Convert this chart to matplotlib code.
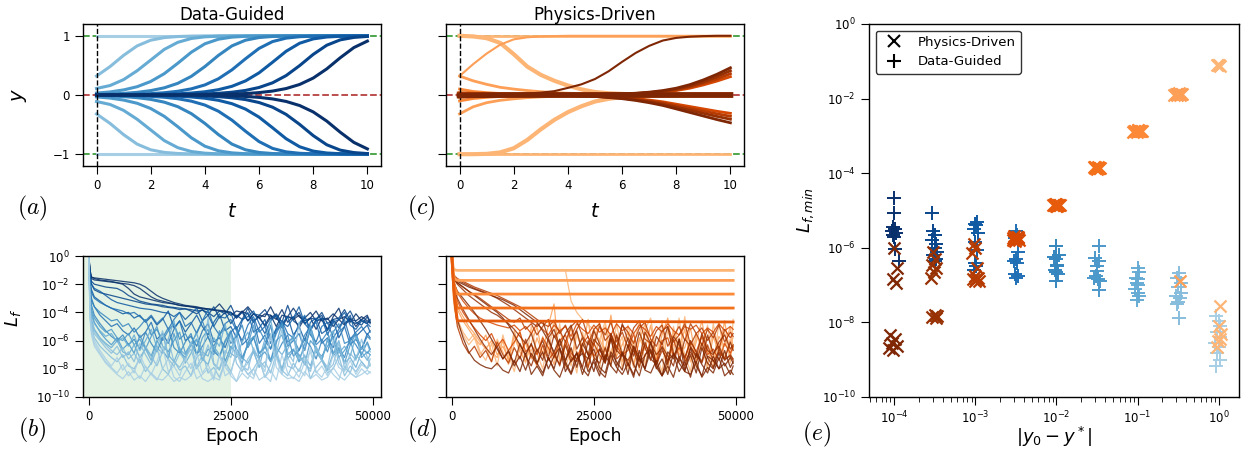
import matplotlib.pyplot as plt
import numpy as np
from matplotlib.lines import Line2D
from matplotlib.ticker import NullLocator

plt.rcParams['font.family'] = 'DejaVu Sans'
plt.rcParams['axes.linewidth'] = 1.0
plt.rcParams['xtick.major.size'] = 6
plt.rcParams['ytick.major.size'] = 6
plt.rcParams['xtick.minor.size'] = 3.5
plt.rcParams['xtick.labelsize'] = 8.5
plt.rcParams['ytick.labelsize'] = 8.5

# colour index 0 -> |y0 - y*| = 1 (light) ... 8 -> 1e-4 (dark)
blues = plt.cm.Blues(np.linspace(0.35, 1.0, 9))
oranges = plt.cm.Oranges(np.linspace(0.35, 1.0, 9))

# ---------------- (a) Data-Guided trajectories (upper half, mirrored below)
T = [0, 0.5, 1, 1.5, 2, 2.5, 3, 3.5, 4, 4.5, 5, 5.5, 6, 6.5, 7, 7.5, 8, 8.5, 9, 9.5, 10]
a_flat = 1.0
a_traj = [
    [0.32, 0.48, 0.67, 0.83, 0.926, 0.97, 0.988, 0.995, 0.998, 1.0, 1.0, 1.0, 1.0, 1.0, 1.0, 1.0, 1.0, 1.0, 1.0, 1.0, 1.0],
    [0.11, 0.16, 0.26, 0.41, 0.59, 0.77, 0.89, 0.955, 0.983, 0.994, 0.998, 1.0, 1.0, 1.0, 1.0, 1.0, 1.0, 1.0, 1.0, 1.0, 1.0],
    [0.032, 0.052, 0.086, 0.14, 0.228, 0.36, 0.536, 0.723, 0.865, 0.943, 0.978, 0.992, 0.997, 0.999, 1.0, 1.0, 1.0, 1.0, 1.0, 1.0, 1.0],
    [0.010, 0.0165, 0.027, 0.045, 0.074, 0.121, 0.197, 0.315, 0.48, 0.669, 0.83, 0.926, 0.971, 0.989, 0.996, 0.9985, 1.0, 1.0, 1.0, 1.0, 1.0],
    [0.003, 0.005, 0.0086, 0.014, 0.023, 0.038, 0.063, 0.104, 0.17, 0.274, 0.425, 0.612, 0.787, 0.903, 0.961, 0.985, 0.994, 0.998, 1.0, 1.0, 1.0],
    [0.001, 0.0017, 0.0027, 0.0045, 0.0074, 0.0122, 0.0201, 0.0331, 0.0546, 0.0897, 0.147, 0.238, 0.374, 0.554, 0.739, 0.875, 0.948, 0.98, 0.992, 0.997, 0.999],
    [0.0003, 0.0005, 0.0009, 0.0014, 0.0023, 0.0039, 0.0064, 0.0105, 0.0173, 0.0285, 0.0469, 0.0772, 0.127, 0.206, 0.328, 0.497, 0.686, 0.841, 0.932, 0.973, 0.99],
    [0.0001, 0.0002, 0.0003, 0.0004, 0.0007, 0.0012, 0.002, 0.0033, 0.0055, 0.009, 0.0148, 0.0245, 0.0404, 0.0664, 0.109, 0.178, 0.286, 0.441, 0.63, 0.801, 0.911],
]

# ---------------- (c) Physics-Driven trajectories: (colour index, line width, values on T)
c_traj = [
    (0, 2.0, [1.0] + [1.0] * 20),
    (0, 2.0, [-1.0] + [-1.0] * 20),
    (0, 3.0, [1.0, 0.99, 0.96, 0.88, 0.69, 0.48, 0.34, 0.24, 0.16, 0.095, 0.05, 0.03, 0.018, 0.01, 0.006, 0.004, 0.002, 0.001, 0.001, 0.0, 0.0]),
    (0, 3.0, [-1.0, -1.0, -0.995, -0.97, -0.9, -0.76, -0.58, -0.42, -0.29, -0.19, -0.11, -0.065, -0.035, -0.02, -0.01, -0.006, -0.004, -0.002, -0.001, 0.0, 0.0]),
    (1, 1.5, [0.32, 0.52, 0.70, 0.85, 0.94, 0.975, 0.99, 0.996, 1.0, 1.0, 1.0, 1.0, 1.0, 1.0, 1.0, 1.0, 1.0, 1.0, 1.0, 1.0, 1.0]),
    (1, 2.0, [0.32, 0.24, 0.18, 0.13, 0.10, 0.075, 0.055, 0.04, 0.03, 0.022, 0.016, 0.011, 0.008, 0.006, 0.004, 0.003, 0.002, 0.001, 0.001, 0.0, 0.0]),
    (1, 2.0, [-0.32, -0.2, -0.13, -0.09, -0.065, -0.045, -0.032, -0.022, -0.015, -0.01, -0.007, -0.005, -0.003, -0.002, -0.001, 0.0, 0.0, 0.0, 0.0, 0.0, 0.0]),
    (2, 2.0, [0.1, 0.06, 0.04, 0.025, 0.016, 0.01, 0.006, 0.004, 0.002, 0.001, 0.0, 0.0, 0.0, 0.0, 0.0, 0.0, 0.0, 0.0, 0.0, 0.0, 0.0]),
    (2, 2.0, [-0.1, -0.06, -0.04, -0.025, -0.016, -0.01, -0.006, -0.004, -0.002, -0.001, 0.0, 0.0, 0.0, 0.0, 0.0, 0.0, 0.0, 0.0, 0.0, 0.0, 0.0]),
    (3, 2.5, [0.032, 0.02, 0.013, 0.008, 0.005, 0.003, 0.002, 0.001, 0.0, 0.0, 0.0, 0.0, 0.0, 0.0, 0.0, 0.0, 0.0, 0.0, 0.0, 0.0, 0.0]),
    (3, 2.5, [-0.032, -0.02, -0.013, -0.008, -0.005, -0.003, -0.002, -0.001, 0.0, 0.0, 0.0, 0.0, 0.0, 0.0, 0.0, 0.0, 0.0, 0.0, 0.0, 0.0, 0.0]),
    (6, 4.0, [0.01, 0.006, 0.004, 0.002, 0.001, 0.0, 0.0, 0.0, 0.0, 0.0, 0.0, 0.0, 0.0, 0.0, 0.0, 0.0, 0.0, 0.0, 0.0, 0.0, 0.0]),
    (8, 4.0, [-0.01, -0.006, -0.004, -0.002, -0.001, 0.0, 0.0, 0.0, 0.0, 0.0, 0.0, 0.0, 0.0, 0.0, 0.0, 0.0, 0.0, 0.0, 0.0, 0.0, 0.0]),
    (8, 1.5, [0.002, 0.003, 0.005, 0.008, 0.015, 0.025, 0.04, 0.065, 0.12, 0.18, 0.27, 0.40, 0.56, 0.71, 0.83, 0.92, 0.965, 0.985, 0.995, 1.0, 1.0]),
]
# diverging bands near the end of (c)
tB = [0, 4, 5, 6, 6.5, 7, 7.5, 8, 8.5, 9, 9.5, 10]
c_band = [
    (5, [0, 0.002, 0.005, 0.012, 0.019, 0.03, 0.048, 0.075, 0.115, 0.17, 0.235, 0.31]),
    (6, [0, 0.002, 0.006, 0.014, 0.022, 0.036, 0.056, 0.087, 0.133, 0.195, 0.27, 0.36]),
    (7, [0, 0.003, 0.007, 0.016, 0.026, 0.041, 0.064, 0.1, 0.15, 0.22, 0.31, 0.41]),
    (8, [0, 0.003, 0.008, 0.019, 0.03, 0.048, 0.075, 0.115, 0.175, 0.255, 0.35, 0.46]),
    (5, [0, -0.005, -0.016, -0.04, -0.06, -0.085, -0.115, -0.155, -0.195, -0.235, -0.275, -0.31]),
    (6, [0, -0.006, -0.019, -0.047, -0.07, -0.099, -0.134, -0.18, -0.225, -0.272, -0.318, -0.36]),
    (7, [0, -0.007, -0.022, -0.054, -0.08, -0.113, -0.153, -0.205, -0.257, -0.31, -0.362, -0.41]),
    (8, [0, -0.008, -0.025, -0.062, -0.092, -0.13, -0.176, -0.235, -0.295, -0.355, -0.415, -0.47]),
]

# ---------------- (b), (d) loss histories, log10(L_f)
epochs = [0, 250, 500, 1000, 2000, 3000, 4000, 5000, 6000, 7000, 8000, 9000, 10000,
          11000, 12000, 13000, 14000, 15000, 16000, 17000, 18000, 19000, 20000,
          21000, 22000, 23000, 24000, 25000, 26000, 27000, 28000, 29000, 30000,
          31000, 32000, 33000, 34000, 35000, 36000, 37000, 38000, 39000, 40000,
          41000, 42000, 43000, 44000, 45000, 46000, 47000, 48000, 49000, 49500]

b_loss = [
    (8, [0.2, -1.2, -1.6,
         -1.7, -1.75, -1.8, -1.85, -1.9, -1.95, -2.0, -2.1, -2.3, -2.6,
         -2.9, -3.1, -3.2, -3.3, -3.4, -3.5, -3.55, -3.6, -3.7, -3.75,
         -3.8, -3.85, -3.9, -3.95, -4.0, -4.3, -3.9, -4.6, -4.1, -4.4,
         -4.9, -4.2, -4.5, -3.8, -4.7, -4.3, -5.1, -4.4, -4.0, -4.6,
         -4.5, -5.2, -4.3, -3.7, -4.8, -4.4, -5.0, -4.5, -4.2, -4.7]),
    (8, [0.2, -1.0, -1.5,
         -1.6, -1.7, -1.75, -1.8, -1.9, -2.0, -2.3, -2.7, -2.9, -3.0,
         -3.1, -3.2, -3.3, -3.35, -3.4, -3.5, -3.55, -3.6, -3.65, -3.7,
         -3.75, -3.8, -3.85, -3.9, -4.2, -3.9, -4.0, -3.6, -4.1, -4.4,
         -4.1, -4.2, -5.0, -4.2, -4.3, -3.7, -4.3, -4.6, -4.4, -5.2,
         -4.4, -4.5, -4.1, -4.5, -4.9, -4.5, -4.6, -4.3, -4.6, -4.7]),
    (8, [0.2, -1.1, -1.5,
         -1.55, -1.6, -1.65, -1.7, -1.75, -1.8, -1.85, -1.9, -2.0, -2.2,
         -2.5, -2.8, -3.0, -3.15, -3.3, -3.4, -3.5, -3.55, -3.6, -3.7,
         -3.75, -3.8, -3.4, -3.9, -4.0, -4.4, -3.95, -4.1, -4.7, -4.2,
         -4.3, -3.6, -4.4, -4.9, -4.3, -4.5, -4.2, -4.8, -4.4, -3.9,
         -4.6, -4.4, -5.0, -4.5, -4.3, -4.7, -4.1, -4.6, -4.8, -4.5]),
    (7, [0.2, -1.3, -1.8,
         -2.0, -2.1, -2.2, -2.25, -2.3, -2.5, -2.8, -3.0, -3.2, -3.3,
         -3.4, -3.45, -3.5, -3.6, -3.65, -3.7, -3.75, -3.8, -3.9, -3.85,
         -4.0, -4.3, -3.9, -4.1, -3.5, -4.4, -4.0, -4.6, -4.1, -4.2,
         -3.8, -4.5, -4.2, -5.1, -4.3, -4.4, -4.0, -4.8, -4.4, -4.5,
         -4.2, -5.3, -4.5, -4.4, -3.8, -4.6, -4.8, -4.5, -4.7, -4.6]),
    (7, [0.2, -1.4, -2.0,
         -2.4, -2.6, -2.7, -2.8, -2.9, -3.0, -3.1, -3.2, -3.3, -3.4,
         -3.45, -3.5, -3.6, -3.65, -3.7, -3.8, -3.75, -3.9, -4.1, -3.8,
         -4.2, -3.6, -4.4, -4.0, -4.8, -4.2, -4.5, -3.7, -4.6, -4.3,
         -5.0, -4.4, -4.1, -4.7, -3.5, -4.6, -4.9, -4.3, -5.2, -4.5,
         -4.0, -4.8, -4.5, -5.1, -4.4, -3.9, -4.7, -4.9, -4.3, -4.8]),
    (6, [0.2, -1.5, -2.0,
         -2.3, -2.5, -2.8, -3.1, -3.3, -3.4, -3.5, -3.6, -3.7, -3.75,
         -3.8, -3.9, -4.0, -4.05, -4.3, -4.0, -4.5, -4.1, -3.7, -4.6,
         -4.2, -5.0, -4.3, -4.4, -4.0, -5.2, -4.5, -4.3, -3.9, -4.8,
         -5.5, -4.6, -4.2, -4.7, -5.0, -4.4, -3.6, -4.8, -5.3, -4.6,
         -4.4, -5.6, -4.7, -4.5, -4.0, -4.9, -5.2, -4.6, -4.8, -5.0]),
    (6, [0.2, -1.8, -2.4,
         -2.9, -3.2, -3.5, -3.7, -3.9, -4.1, -4.0, -4.4, -4.2, -4.7,
         -4.3, -4.9, -4.5, -3.9, -5.1, -4.6, -5.4, -4.8, -4.2, -5.0,
         -5.6, -4.7, -4.1, -5.3, -5.0, -5.8, -4.6, -4.0, -5.4, -5.1,
         -4.5, -5.9, -5.2, -4.8, -4.3, -5.6, -5.0, -6.0, -4.7, -4.4,
         -5.5, -5.2, -4.6, -5.8, -5.0, -4.2, -5.7, -5.3, -4.9, -5.4]),
    (5, [0.2, -2.0, -2.6,
         -3.0, -3.3, -3.5, -3.7, -3.8, -3.9, -4.1, -4.0, -4.3, -4.6,
         -4.2, -4.8, -4.4, -5.2, -4.5, -4.0, -5.0, -4.7, -5.5, -4.6,
         -3.8, -5.0, -5.6, -4.8, -4.5, -5.3, -6.0, -4.9, -4.3, -5.4,
         -5.0, -6.2, -5.1, -4.6, -5.5, -5.8, -4.8, -4.2, -5.6, -6.1,
         -5.0, -4.7, -5.8, -5.2, -4.5, -5.9, -5.4, -5.0, -5.6, -5.3]),
    (5, [0.2, -2.2, -3.0,
         -3.6, -4.2, -4.6, -5.0, -4.8, -5.3, -5.6, -5.1, -5.8, -5.4,
         -4.7, -5.9, -5.5, -6.2, -5.2, -4.6, -6.0, -5.7, -6.4, -5.3,
         -4.8, -6.1, -5.8, -6.5, -5.4, -5.0, -6.3, -5.9, -4.5, -6.2,
         -5.6, -6.6, -5.3, -4.9, -6.4, -6.0, -5.5, -6.7, -5.1, -4.7,
         -6.2, -5.8, -6.5, -5.4, -5.0, -6.3, -5.9, -6.6, -5.5, -5.8]),
    (4, [0.2, -2.5, -3.2,
         -3.6, -4.0, -4.3, -4.6, -4.5, -5.0, -4.8, -5.4, -5.0, -4.5,
         -5.6, -5.2, -6.0, -5.3, -4.8, -5.9, -5.5, -6.3, -5.4, -4.6,
         -5.8, -6.4, -5.6, -5.1, -6.2, -5.7, -4.9, -6.5, -5.8, -5.2,
         -6.0, -6.6, -5.5, -4.7, -6.1, -5.8, -6.7, -5.6, -5.0, -6.3,
         -5.9, -6.8, -5.4, -4.8, -6.2, -6.0, -5.5, -6.6, -5.7, -5.9]),
    (4, [0.2, -2.7, -3.5,
         -4.2, -4.8, -5.3, -5.7, -6.0, -5.6, -6.3, -5.9, -6.6, -5.4,
         -6.2, -6.8, -5.8, -5.1, -6.5, -6.9, -6.1, -5.5, -7.0, -6.4,
         -5.7, -6.8, -7.1, -6.0, -5.3, -6.6, -7.2, -6.3, -5.8, -6.9,
         -6.5, -4.9, -7.0, -6.2, -5.6, -7.1, -6.7, -5.9, -6.4, -7.3,
         -6.0, -5.4, -6.9, -6.5, -7.2, -5.8, -6.3, -7.0, -6.1, -6.6]),
    (3, [0.2, -3.0, -3.8,
         -4.4, -5.0, -5.4, -5.2, -5.8, -6.0, -5.5, -6.3, -5.9, -6.6,
         -5.7, -5.0, -6.4, -6.8, -6.0, -5.4, -6.9, -6.2, -7.0, -5.8,
         -5.2, -6.6, -7.2, -6.1, -5.5, -6.8, -7.3, -6.3, -4.9, -6.9,
         -6.4, -7.4, -6.0, -5.6, -7.0, -6.6, -7.5, -6.2, -5.3, -6.8,
         -7.1, -6.4, -5.8, -7.2, -6.7, -6.0, -7.3, -6.5, -6.9, -6.6]),
    (3, [0.2, -3.3, -4.0,
         -4.7, -5.4, -5.9, -6.3, -5.8, -6.6, -6.2, -6.9, -5.6, -6.5,
         -7.1, -6.0, -6.7, -7.3, -5.5, -6.8, -7.2, -6.3, -5.9, -7.4,
         -6.6, -7.0, -5.3, -7.5, -6.4, -6.9, -7.6, -6.1, -5.7, -7.2,
         -6.8, -7.5, -6.2, -4.8, -7.3, -6.7, -7.0, -7.7, -6.0, -6.5,
         -7.4, -5.9, -7.1, -6.6, -7.6, -6.3, -5.5, -7.2, -6.8, -7.0]),
    (2, [0.2, -3.5, -4.5,
         -5.2, -5.8, -6.2, -6.5, -6.0, -6.8, -7.0, -6.3, -7.2, -6.6,
         -7.4, -6.1, -5.5, -7.0, -7.5, -6.5, -7.6, -6.9, -5.9, -7.3,
         -7.7, -6.4, -7.0, -7.8, -6.7, -5.4, -7.2, -7.6, -6.8, -7.9,
         -6.2, -7.4, -7.0, -8.0, -6.6, -5.8, -7.5, -7.1, -7.8, -6.5,
         -7.3, -8.1, -6.9, -6.0, -7.6, -7.2, -7.9, -6.8, -7.4, -7.0]),
    (2, [0.2, -3.2, -4.2,
         -4.8, -5.3, -5.7, -5.5, -6.1, -5.8, -6.4, -5.6, -6.7, -6.0,
         -5.2, -6.5, -6.9, -5.9, -4.6, -6.6, -7.0, -6.2, -5.5, -6.8,
         -7.1, -5.8, -6.4, -4.8, -6.9, -7.2, -6.1, -5.4, -6.7, -7.3,
         -5.9, -4.5, -6.5, -7.0, -6.3, -5.6, -7.2, -6.6, -4.9, -6.8,
         -7.4, -6.0, -5.3, -6.9, -6.4, -7.1, -5.7, -6.6, -6.2, -6.8]),
    (1, [0.2, -4.0, -5.0,
         -5.8, -6.4, -6.8, -7.2, -7.5, -7.0, -7.8, -8.0, -7.3, -8.2,
         -7.6, -6.5, -8.0, -8.4, -7.4, -8.1, -7.8, -8.5, -7.2, -6.8,
         -8.3, -7.9, -8.6, -7.5, -8.2, -6.9, -7.8, -8.4, -8.0, -7.3,
         -8.6, -7.7, -6.6, -8.1, -8.5, -7.6, -8.2, -7.0, -8.7, -7.9,
         -7.4, -8.3, -8.0, -7.1, -8.5, -7.8, -8.2, -7.5, -8.0, -7.7]),
    (1, [0.2, -3.8, -4.8,
         -5.5, -6.0, -6.5, -6.9, -6.4, -7.2, -6.8, -7.5, -6.2, -7.0,
         -7.7, -6.6, -5.3, -7.3, -7.8, -6.9, -7.4, -6.1, -7.9, -7.0,
         -4.4, -7.6, -8.0, -6.7, -7.2, -5.8, -7.8, -8.1, -6.5, -7.4,
         -7.9, -5.5, -7.1, -8.2, -6.8, -7.5, -4.7, -7.7, -8.0, -6.4,
         -7.3, -7.9, -6.0, -7.6, -8.1, -6.9, -7.4, -5.9, -7.2, -7.8]),
    (1, [0.2, -3.6, -4.6,
         -5.3, -5.9, -6.3, -6.7, -7.0, -6.5, -7.3, -6.9, -7.6, -6.4,
         -7.1, -7.8, -6.8, -5.9, -7.5, -7.9, -7.2, -6.6, -8.0, -7.4,
         -6.3, -7.7, -8.1, -7.0, -5.6, -7.6, -8.2, -7.3, -6.7, -7.9,
         -7.5, -8.3, -6.9, -5.2, -7.8, -8.0, -7.1, -7.6, -8.2, -6.6,
         -7.4, -8.1, -7.7, -6.2, -7.9, -8.3, -7.0, -7.5, -8.0, -7.3]),
    (0, [0.2, -4.5, -5.6,
         -6.4, -7.0, -7.6, -8.0, -8.4, -8.7, -8.2, -8.8, -8.5, -8.9,
         -8.3, -8.7, -8.8, -8.4, -8.9, -8.6, -8.8, -8.5, -7.8, -8.7,
         -8.9, -8.6, -8.8, -7.5, -8.5, -8.9, -8.3, -8.7, -8.0, -8.8,
         -8.5, -8.9, -7.2, -8.4, -8.7, -8.6, -8.9, -8.2, -8.7, -8.4,
         -8.8, -8.6, -7.9, -8.5, -8.8, -8.3, -8.6, -8.4, -8.1, -8.3]),
    (0, [0.2, -4.2, -5.2,
         -6.0, -6.7, -7.3, -7.8, -7.2, -8.1, -7.6, -8.3, -7.0, -7.9,
         -8.4, -7.5, -6.4, -8.2, -7.8, -8.5, -7.3, -8.0, -6.9, -8.3,
         -7.7, -8.6, -7.1, -7.9, -8.4, -6.6, -8.1, -7.6, -8.5, -7.4,
         -8.2, -5.6, -7.9, -8.4, -7.2, -8.0, -8.6, -7.5, -6.8, -8.3,
         -7.8, -8.5, -7.0, -7.9, -8.2, -7.4, -8.4, -7.7, -8.0, -7.6]),
    (0, [0.2, -4.4, -5.4,
         -6.2, -6.9, -7.5, -7.9, -8.3, -7.7, -8.5, -8.1, -8.7, -7.8,
         -8.4, -8.8, -8.0, -7.3, -8.6, -8.9, -8.2, -7.6, -8.7, -8.4,
         -8.0, -8.8, -6.9, -8.5, -8.2, -8.9, -7.7, -8.4, -8.7, -7.4,
         -8.6, -8.1, -8.8, -7.0, -8.3, -8.7, -8.0, -8.5, -6.5, -8.2,
         -8.6, -7.8, -8.4, -8.8, -7.5, -8.3, -8.6, -8.0, -8.4, -8.2]),
]

# light (large |y0 - y*|) runs first, so the darker runs sit on top as in the original
d_loss = [
    (1, [0.2, -2.2, -3.0,
         -3.8, -4.6, -5.2, -5.8, -6.3, -5.6, -6.8, -7.2, -6.0, -7.5,
         -5.3, -6.7, -6.2, -7.3, -5.8, -6.9, -4.9, -3.4, -7.6, -6.4,
         -5.1, -7.0, -6.6, -4.5, -7.4, -5.9, -6.8, -4.2, -7.1, -6.3,
         -5.4, -7.7, -6.0, -4.8, -6.9, -7.3, -5.6, -4.4, -7.0, -6.5,
         -5.2, -7.5, -6.1, -4.6, -6.8, -7.2, -5.7, -6.4, -5.0, -6.6]),
    (1, [0.2, -2.0, -2.8,
         -3.6, -4.3, -5.0, -5.5, -6.1, -6.6, -6.0, -7.0, -6.4, -7.3,
         -5.7, -6.8, -7.5, -6.2, -5.0, -7.1, -6.5, -7.7, -5.9, -6.9,
         -7.4, -5.4, -6.6, -7.8, -6.1, -4.7, -7.2, -6.8, -5.6, -7.5,
         -6.3, -7.9, -5.8, -6.7, -4.9, -7.3, -6.0, -7.6, -5.3, -7.0,
         -6.5, -5.1, -7.4, -6.2, -7.8, -5.7, -6.9, -4.6, -7.1, -6.4]),
    (0, [0.2, -2.5, -3.5,
         -4.5, -5.4, -6.0, -5.5, -6.8, -7.4, -6.2, -7.8, -5.6, -7.0,
         -8.2, -6.4, -7.6, -5.0, -6.9, -8.0, -6.1, -7.3, -4.8, -7.9,
         -6.6, -8.3, -5.4, -7.1, -6.0, -8.1, -4.9, -7.5, -6.7, -5.7,
         -8.0, -6.3, -4.6, -7.7, -5.9, -7.0, -8.2, -5.2, -6.8, -4.4,
         -7.4, -6.0, -7.9, -5.5, -6.5, -8.0, -4.7, -7.2, -6.2, -5.8]),
    (0, [0.2, -2.8, -3.8,
         -4.8, -5.6, -6.3, -5.8, -7.0, -6.4, -7.5, -5.9, -6.8, -7.7,
         -6.2, -5.3, -7.2, -6.6, -7.9, -5.7, -6.9, -4.5, -7.4, -6.1,
         -7.8, -5.6, -6.7, -8.0, -5.1, -7.3, -6.4, -7.6, -4.8, -6.9,
         -7.5, -6.0, -8.1, -5.4, -6.6, -7.2, -4.6, -7.8, -6.3, -5.8,
         -7.0, -8.2, -5.5, -6.7, -4.9, -7.6, -6.2, -7.3, -5.9, -6.5]),
    (0, [0.2, -0.8, -0.98,
         -1.02, -1.02, -1.02, -1.02, -1.02, -1.02, -1.02, -1.02, -1.02, -1.02,
         -1.02, -1.02, -1.02, -1.02, -1.02, -1.02, -1.02, -1.02, -1.02, -1.02,
         -3.2, -4.0, -4.5, -4.9, -5.2, -6.0, -4.6, -7.2, -5.5, -8.0,
         -4.9, -6.6, -7.8, -5.2, -4.4, -7.0, -6.1, -8.2, -5.0, -6.8,
         -4.3, -7.5, -5.7, -6.3, -8.1, -4.8, -6.9, -5.4, -7.6, -4.5]),
    (5, [0.2, -1.5, -2.0,
         -2.6, -3.2, -3.7, -4.1, -4.4, -4.6, -4.75, -4.9, -5.0, -5.1,
         -4.9, -5.3, -5.0, -5.5, -4.8, -5.2, -5.6, -4.9, -5.3, -5.0,
         -5.7, -4.8, -5.2, -5.5, -4.9, -5.4, -5.1, -5.6, -4.8, -5.3,
         -5.0, -5.5, -4.9, -5.2, -5.7, -5.0, -5.4, -4.8, -5.3, -5.6,
         -5.0, -5.2, -4.9, -5.5, -5.1, -5.4, -4.8, -5.3, -5.0, -5.2]),
    (5, [0.2, -1.7, -2.4,
         -3.2, -4.0, -4.6, -5.1, -5.6, -6.0, -5.5, -6.4, -5.9, -6.7,
         -6.1, -5.4, -6.8, -6.3, -7.0, -5.8, -6.5, -7.2, -6.0, -5.6,
         -6.9, -7.3, -6.2, -5.7, -7.1, -6.6, -7.4, -5.9, -6.4, -7.0,
         -6.7, -5.5, -7.2, -6.3, -6.9, -7.5, -6.0, -5.8, -7.1, -6.5,
         -7.3, -6.1, -6.8, -5.7, -7.0, -6.6, -7.4, -6.2, -6.9, -6.4]),
    (6, [0.2, -1.2, -1.4,
         -1.6, -1.8, -2.0, -2.2, -2.35, -2.5, -2.65, -2.8, -3.0, -3.2,
         -3.4, -3.6, -3.9, -4.2, -4.5, -4.8, -5.0, -4.6, -5.5, -4.9,
         -6.0, -5.2, -4.5, -5.8, -6.3, -5.0, -5.6, -4.7, -6.1, -5.4,
         -6.5, -5.1, -4.6, -5.9, -6.2, -5.3, -4.9, -6.4, -5.7, -5.0,
         -6.0, -4.8, -5.5, -6.3, -5.2, -5.8, -4.9, -6.1, -5.4, -5.7]),
    (6, [0.2, -2.0, -3.5,
         -5.0, -6.2, -6.9, -6.4, -7.2, -6.7, -7.5, -6.1, -7.0, -7.6,
         -6.5, -7.3, -5.9, -7.1, -7.7, -6.3, -7.4, -6.8, -7.8, -6.0,
         -7.2, -7.5, -6.6, -7.9, -6.2, -7.0, -7.6, -5.8, -7.3, -6.9,
         -7.8, -6.4, -7.5, -7.1, -6.1, -7.7, -6.7, -7.4, -5.9, -7.2,
         -7.8, -6.5, -7.0, -7.6, -6.3, -7.5, -6.8, -7.3, -7.1, -7.4]),
    (6, [0.2, -1.3, -1.6,
         -1.9, -2.2, -2.5, -2.75, -3.0, -3.3, -3.6, -3.9, -4.2, -4.5,
         -4.7, -4.4, -5.2, -4.8, -5.6, -5.0, -4.5, -5.8, -5.3, -6.1,
         -5.0, -4.6, -5.7, -6.3, -5.2, -4.8, -6.0, -5.5, -6.5, -4.9,
         -5.4, -6.2, -5.1, -4.7, -5.9, -6.4, -5.3, -5.0, -6.1, -5.6,
         -4.8, -6.3, -5.5, -5.1, -6.0, -5.4, -6.6, -5.2, -5.8, -5.5]),
    (7, [0.2, -1.3, -1.5,
         -1.7, -1.9, -2.1, -2.3, -2.45, -2.6, -2.8, -3.0, -3.25, -3.5,
         -3.8, -4.1, -4.4, -4.7, -5.0, -4.6, -5.8, -5.2, -6.4, -5.5,
         -4.9, -6.6, -5.8, -7.0, -5.3, -6.2, -7.3, -5.6, -6.8, -4.8,
         -6.0, -7.1, -5.4, -6.5, -7.4, -5.7, -6.3, -5.0, -6.9, -7.5,
         -5.9, -6.4, -7.2, -5.5, -6.7, -7.0, -6.1, -5.6, -6.6, -6.3]),
    (7, [0.2, -1.6, -2.2,
         -3.0, -3.8, -4.5, -5.2, -5.9, -6.5, -7.0, -6.4, -7.3, -6.8,
         -7.6, -6.2, -7.1, -7.8, -6.6, -7.4, -5.8, -7.0, -7.7, -6.3,
         -7.5, -6.9, -7.9, -6.0, -7.2, -7.6, -6.5, -7.8, -5.6, -7.0,
         -7.4, -6.7, -7.9, -6.1, -7.3, -7.7, -6.4, -7.1, -7.8, -5.9,
         -7.5, -6.8, -7.6, -6.2, -7.2, -7.9, -6.6, -7.4, -7.0, -7.3]),
    (7, [0.2, -1.4, -1.7,
         -2.0, -2.4, -2.8, -3.1, -3.4, -3.7, -4.0, -4.2, -4.5, -4.8,
         -5.2, -5.7, -6.2, -5.5, -6.8, -6.0, -7.2, -5.6, -6.5, -7.5,
         -6.1, -5.3, -6.9, -7.3, -5.9, -6.4, -7.6, -5.5, -6.7, -7.1,
         -5.8, -6.6, -7.4, -5.4, -6.2, -7.0, -6.5, -7.7, -5.7, -6.3,
         -7.2, -6.0, -6.8, -7.5, -5.6, -6.9, -6.4, -7.3, -6.1, -6.7]),
    (8, [0.2, -1.4, -1.6,
         -1.8, -2.0, -2.2, -2.35, -2.5, -2.65, -2.8, -2.95, -3.1, -3.3,
         -3.5, -3.8, -4.1, -4.4, -4.7, -5.3, -6.0, -6.8, -5.9, -7.4,
         -6.5, -7.9, -6.2, -7.0, -8.2, -6.6, -7.5, -5.8, -7.8, -6.9,
         -8.4, -6.4, -7.2, -8.0, -6.1, -7.7, -8.5, -6.8, -7.3, -5.9,
         -8.1, -7.0, -8.3, -6.5, -7.6, -8.0, -6.9, -7.8, -7.2, -7.6]),
    (8, [0.2, -1.8, -3.0,
         -4.5, -5.8, -6.8, -7.4, -7.7, -7.9, -8.0, -7.6, -8.1, -8.3,
         -7.4, -8.2, -6.9, -8.4, -7.8, -8.5, -7.2, -8.1, -8.6, -7.5,
         -8.3, -6.8, -8.0, -8.5, -7.3, -8.2, -8.6, -7.0, -7.9, -8.4,
         -7.6, -8.6, -6.7, -8.1, -8.3, -7.4, -8.5, -7.8, -8.6, -7.1,
         -8.2, -8.4, -7.5, -8.6, -7.9, -8.3, -7.2, -8.5, -8.1, -8.4]),
    (8, [0.2, -1.5, -1.7,
         -1.9, -2.2, -2.5, -2.8, -3.1, -3.4, -3.7, -4.0, -4.4, -4.9,
         -5.6, -6.3, -7.0, -6.2, -7.6, -6.8, -8.0, -7.1, -6.5, -8.2,
         -7.4, -6.9, -8.4, -7.2, -6.6, -7.9, -8.3, -6.8, -7.5, -8.1,
         -6.3, -7.7, -8.5, -7.0, -6.6, -8.0, -7.3, -8.4, -6.9, -7.6,
         -8.2, -6.5, -7.8, -8.5, -7.1, -7.4, -8.0, -6.7, -7.9, -7.5]),
    (8, [0.2, -1.6, -2.0,
         -2.5, -3.0, -3.5, -4.0, -4.6, -5.2, -5.9, -6.6, -7.3, -6.7,
         -7.8, -7.1, -8.1, -6.9, -7.6, -8.3, -7.2, -8.0, -6.6, -7.7,
         -8.4, -7.3, -6.9, -8.2, -7.5, -8.5, -7.0, -7.8, -8.3, -6.8,
         -7.6, -8.4, -7.2, -8.0, -6.7, -7.9, -8.5, -7.4, -7.0, -8.2,
         -7.5, -8.6, -6.9, -7.7, -8.3, -7.1, -8.0, -7.6, -8.4, -7.8]),
]
# runs stuck on a plateau in (d)
flat_epochs = [0, 250, 500, 1000, 49500]
d_flat = [
    (0, [0.2, -0.8, -0.98, -1.02, -1.02]),
    (1, [0.2, -1.2, -1.6, -1.73, -1.73]),
    (2, [0.2, -1.4, -2.2, -2.7, -2.7]),
    (3, [0.2, -1.5, -2.8, -3.69, -3.69]),
    (4, [0.2, -1.6, -3.0, -4.6, -4.68]),
]

# ---------------- (e) minimum residual loss, groups |y0 - y*| = 1e-4 ... 1 (log10 values)
dg_logx = [
    [-4.0, -4.0, -4.02, -3.99, -4.03, -3.98, -4.01, -4.0, -3.99, -3.94],
    [-3.53, -3.52, -3.5, -3.53, -3.48, -3.5, -3.47, -3.52, -3.49, -3.5],
    [-2.98, -3.0, -2.99, -3.02, -2.97, -3.0, -2.98, -3.01, -2.99, -3.02],
    [-2.5, -2.49, -2.51, -2.48, -2.5, -2.52, -2.49, -2.51, -2.48, -2.5],
    [-2.0, -1.97, -2.03, -2.01, -1.99, -2.02, -2.0, -1.98, -2.01, -1.99],
    [-1.48, -1.52, -1.47, -1.5, -1.54, -1.49, -1.46, -1.51, -1.48, -1.5],
    [-1.0, -0.98, -1.02, -1.01, -0.99, -1.03, -1.0, -0.98, -1.01, -1.0],
    [-0.49, -0.51, -0.47, -0.5, -0.53, -0.48, -0.5, -0.52, -0.49, -0.46],
    [-0.03, 0.0, 0.02, -0.02, 0.01, -0.04, 0.0, -0.02, 0.01, -0.03],
]
dg_logy = [
    [-4.67, -5.07, -5.45, -5.5, -5.55, -5.6, -5.65, -5.7, -6.02, -6.35],
    [-5.07, -5.55, -5.65, -5.8, -5.9, -6.0, -6.1, -6.2, -6.3, -6.35],
    [-5.3, -5.35, -5.4, -5.5, -5.6, -5.85, -6.05, -6.4, -6.5, -6.6],
    [-5.55, -5.65, -5.75, -6.1, -6.3, -6.35, -6.4, -6.7, -6.75, -6.8],
    [-5.95, -6.2, -6.25, -6.3, -6.45, -6.6, -6.65, -6.7, -6.9, -6.5],
    [-5.96, -6.27, -6.35, -6.63, -6.8, -6.85, -6.9, -6.75, -7.12, -6.5],
    [-6.54, -6.65, -6.8, -6.95, -6.99, -7.1, -7.21, -7.3, -7.39, -6.85],
    [-6.67, -6.8, -6.94, -7.05, -7.3, -7.35, -7.45, -7.5, -7.88, -7.2],
    [-7.83, -7.95, -8.1, -8.25, -8.4, -8.55, -8.65, -8.82, -9.0, -9.17],
]
pd_logx = [
    [-4.0, -3.96, -4.02, -3.98, -4.05, -3.99, -4.03, -3.97, -4.06, -4.01],
    [-3.52, -3.5, -3.54, -3.49, -3.51, -3.55, -3.5, -3.47, -3.53, -3.49],
    [-3.02, -3.0, -3.04, -2.98, -3.01, -2.97, -3.03, -2.99, -3.0, -2.96],
    [-2.52, -2.48, -2.5, -2.46, -2.53, -2.49, -2.51, -2.47, -2.5, -2.54],
    [-2.02, -1.98, -2.0, -1.96, -2.04, -2.01, -1.99, -2.03, -1.97, -2.0],
    [-1.52, -1.48, -1.5, -1.46, -1.54, -1.51, -1.49, -1.53, -1.47, -1.5],
    [-1.03, -0.97, -1.0, -0.94, -1.06, -0.99, -1.01, -0.96, -1.04, -0.98],
    [-0.52, -0.48, -0.5, -0.45, -0.55, -0.49, -0.51, -0.47, -0.53, -0.48],
    [-0.02, 0.01, 0.0, -0.01, 0.02, 0.0, 0.03, 0.01, -0.01, -0.02],
]
pd_logy = [
    [-6.0, -6.55, -6.85, -6.95, -8.35, -8.45, -8.55, -8.62, -8.7, -8.75],
    [-6.1, -6.3, -6.45, -6.55, -6.65, -6.8, -7.8, -7.82, -7.85, -7.87],
    [-5.9, -6.0, -6.15, -6.55, -6.75, -6.8, -6.85, -6.85, -6.9, -6.9],
    [-5.68, -5.72, -5.75, -5.78, -5.8, -5.7, -5.82, -5.74, -5.77, -5.73],
    [-4.82, -4.85, -4.88, -4.84, -4.86, -4.83, -4.87, -4.85, -4.86, -4.84],
    [-3.83, -3.86, -3.85, -3.87, -3.84, -3.86, -3.83, -3.87, -3.85, -3.88],
    [-2.86, -2.88, -2.85, -2.87, -2.89, -2.84, -2.9, -2.86, -2.87, -2.88],
    [-1.88, -1.9, -1.87, -1.89, -1.91, -1.86, -1.9, -1.88, -1.89, -6.9],
    [-1.1, -1.12, -1.09, -1.11, -7.56, -8.1, -8.3, -8.45, -8.5, -8.67],
]

# ---------------- figure
fig = plt.figure(figsize=(12.42, 4.5), dpi=100)
ax_a = fig.add_axes([0.0668, 0.6311, 0.2399, 0.3156])
ax_c = fig.add_axes([0.3591, 0.6311, 0.2399, 0.3156])
ax_b = fig.add_axes([0.0668, 0.1178, 0.2399, 0.3133])
ax_d = fig.add_axes([0.3591, 0.1178, 0.2399, 0.3133])
ax_e = fig.add_axes([0.6997, 0.1178, 0.2979, 0.8289])


def traj_frame(ax):
    ax.axhline(1, color='#3f9f3f', ls='--', lw=1.3, zorder=1)
    ax.axhline(-1, color='#3f9f3f', ls='--', lw=1.3, zorder=1)
    ax.axhline(0, color='#b5403f', ls='--', lw=1.3, zorder=1)
    ax.axvline(0, color='k', ls='--', lw=1.0, zorder=10)
    ax.set_xlim(-0.5, 10.5)
    ax.set_ylim(-1.2, 1.2)
    ax.set_xticks([0, 2, 4, 6, 8, 10])
    ax.set_yticks([-1, 0, 1])
    ax.set_xlabel('$t$', fontsize=14)
    ax.xaxis.set_label_coords(0.5, -0.25)


# (a)
traj_frame(ax_a)
ax_a.plot([T[0], T[-1]], [a_flat, a_flat], color=blues[0], lw=2.2, zorder=2)
ax_a.plot([T[0], T[-1]], [-a_flat, -a_flat], color=blues[0], lw=2.2, zorder=2)
for i, ys in enumerate(a_traj):
    ax_a.plot(T, ys, color=blues[i + 1], lw=2.2, zorder=2 + i)
    ax_a.plot(T, [-v for v in ys], color=blues[i + 1], lw=2.2, zorder=2 + i)
ax_a.set_ylabel('$y$', fontsize=14)
ax_a.yaxis.set_label_coords(-0.18, 0.5)
ax_a.set_title('Data-Guided', fontsize=12, pad=3)

# (c)
traj_frame(ax_c)
for ci, lw, ys in c_traj:
    ax_c.plot(T, ys, color=oranges[ci], lw=lw, zorder=2 + ci)
for ci, ys in c_band:
    ax_c.plot(tB, ys, color=oranges[ci], lw=2.0, zorder=2 + ci)
ax_c.tick_params(labelleft=False)
ax_c.set_title('Physics-Driven', fontsize=12, pad=3)


def loss_frame(ax):
    ax.set_yscale('log')
    ax.set_ylim(1e-10, 1)
    ax.set_yticks([1e0, 1e-2, 1e-4, 1e-6, 1e-8, 1e-10])
    ax.yaxis.set_minor_locator(NullLocator())
    ax.set_xlim(-1000, 51400)
    ax.set_xticks([0, 25000, 50000])
    ax.set_xlabel('Epoch', fontsize=12.5)
    ax.xaxis.set_label_coords(0.5, -0.21)


# (b)
loss_frame(ax_b)
ax_b.axvspan(-1000, 25000, color='tab:green', alpha=0.12, lw=0, zorder=0)
for ci, v in b_loss:
    n = min(len(v), len(epochs))
    ax_b.plot(epochs[:n], 10 ** np.array(v[:n]), color=blues[ci], lw=0.9, alpha=0.85)
ax_b.set_ylabel('$L_f$', fontsize=13)
ax_b.yaxis.set_label_coords(-0.2, 0.56)

# (d)
loss_frame(ax_d)
for ci, v in d_loss:
    n = min(len(v), len(epochs))
    ax_d.plot(epochs[:n], 10 ** np.array(v[:n]), color=oranges[ci], lw=0.9, alpha=0.85)
for ci, v in d_flat:
    ax_d.plot(flat_epochs, 10 ** np.array(v), color=oranges[ci], lw=2.0)
ax_d.tick_params(labelleft=False)

# (e)
for g in range(9):
    ax_e.scatter(10 ** np.array(dg_logx[g]), 10 ** np.array(dg_logy[g]), marker='+',
                 s=90, color=blues[8 - g], linewidths=1.4)
for g in range(9):
    ax_e.scatter(10 ** np.array(pd_logx[g]), 10 ** np.array(pd_logy[g]), marker='x',
                 s=75, color=oranges[8 - g], linewidths=1.6)
ax_e.set_xscale('log')
ax_e.set_yscale('log')
ax_e.set_xlim(10 ** -4.31, 10 ** 0.25)
ax_e.set_ylim(1e-10, 1)
ax_e.set_yticks([1e0, 1e-2, 1e-4, 1e-6, 1e-8, 1e-10])
ax_e.yaxis.set_minor_locator(NullLocator())
ax_e.set_xlabel('$|y_0 - y^*|$', fontsize=13)
ax_e.xaxis.set_label_coords(0.5, -0.075)
ax_e.set_ylabel('$L_{f,min}$', fontsize=13)
handles = [Line2D([], [], marker='x', color='k', ls='none', markersize=9, mew=1.5, label='Physics-Driven'),
           Line2D([], [], marker='+', color='k', ls='none', markersize=10, mew=1.5, label='Data-Guided')]
ax_e.legend(handles=handles, loc='upper left', fontsize=9.5, framealpha=1, edgecolor='0.2')

# panel letters
for lbl, x, y in [('(a)', 32, 208), ('(b)', 32, 430), ('(c)', 421, 208), ('(d)', 422, 430), ('(e)', 817, 434)]:
    fig.text(x / 1242, 1 - y / 450, '$' + lbl + '$', fontsize=17, math_fontfamily='cm',
             ha='center', va='center')

fig.savefig('out.png', dpi=100)
